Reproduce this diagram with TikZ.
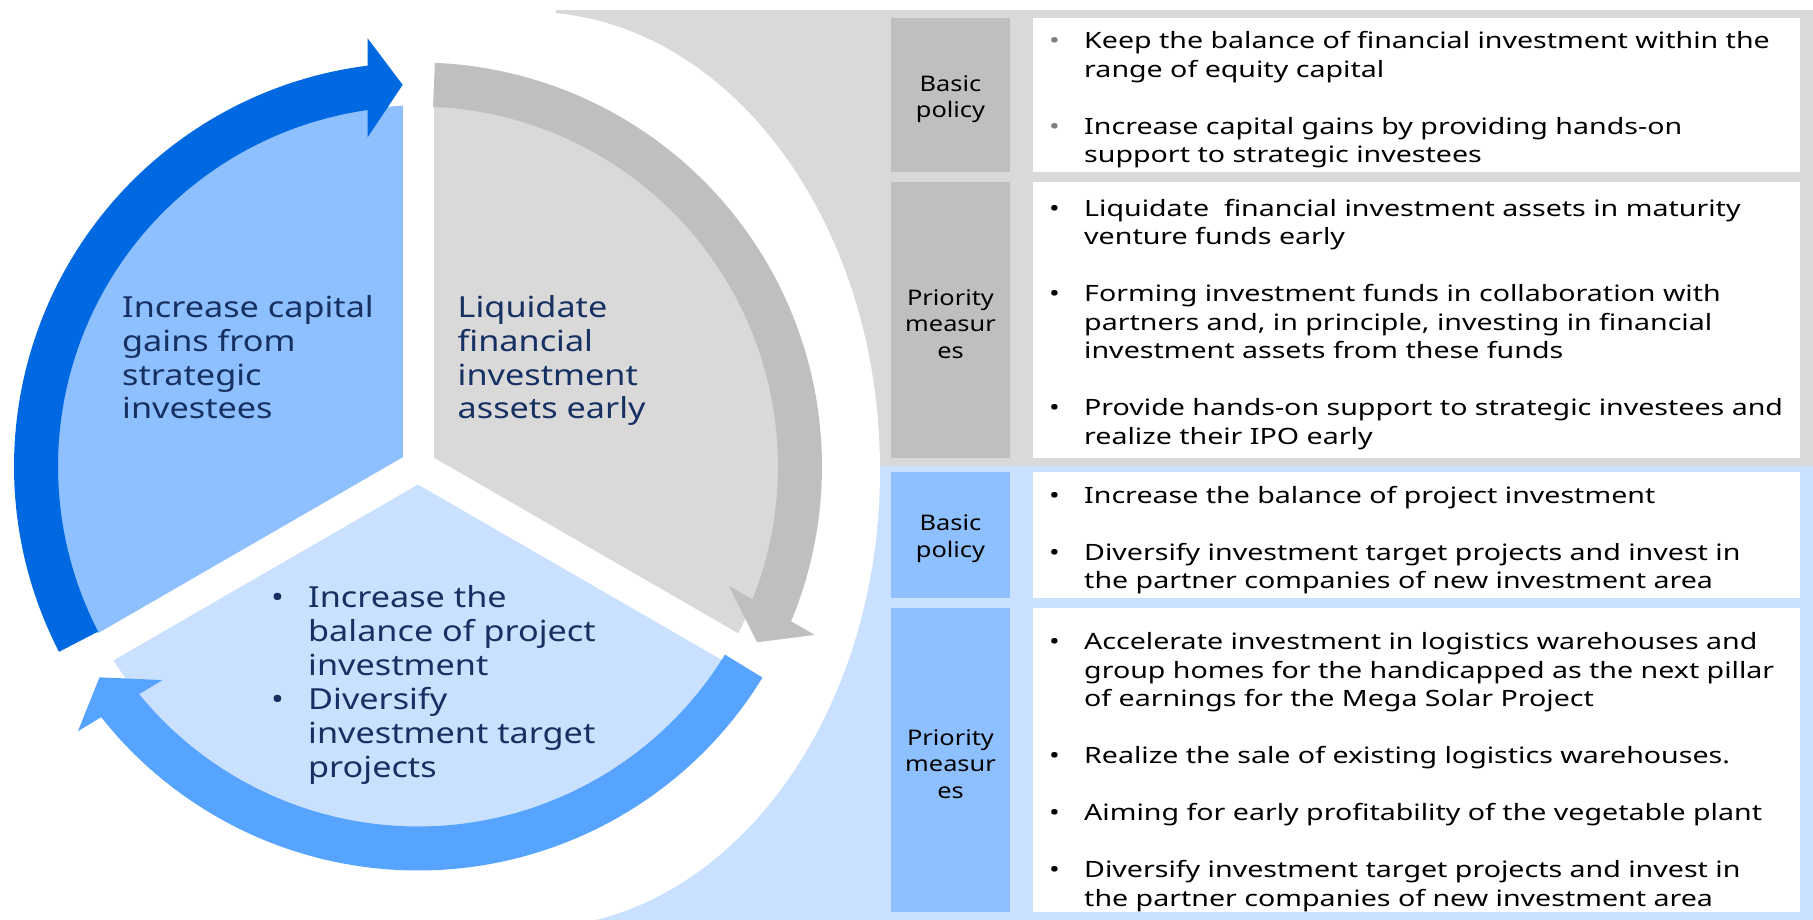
\documentclass[tikz,border=0pt]{standalone}
\usepackage{fontspec}
\setmainfont{Noto Sans}[FakeStretch=1.18]
\newfontfamily\panelfont{Noto Sans}[FakeStretch=1.27]
\usetikzlibrary{positioning}

\definecolor{cycBlue}{RGB}{0,104,224}
\definecolor{cycSky}{RGB}{86,164,255}
\definecolor{cycGray}{RGB}{191,191,191}
\definecolor{secBlue}{RGB}{142,192,255}
\definecolor{secPale}{RGB}{202,224,255}
\definecolor{secGray}{RGB}{217,217,217}
\definecolor{navy}{RGB}{22,48,98}
\newcommand{\lblstrut}{\rule{0pt}{23pt}}

\begin{document}
\begin{tikzpicture}[x=1pt,y=1pt,
  lbl/.style={minimum width=119pt, inner sep=0pt, align=center, font=\fontsize{21.5}{26.5}\selectfont},
  txtbox/.style={fill=white, minimum width=767pt, inner sep=0pt},
  items/.style={anchor=west, inner sep=0pt, font=\panelfont\fontsize{22.5}{28.5}\selectfont},
  cyc/.style={anchor=north west, inner sep=0pt, align=left, text=navy, font=\fontsize{29}{33.9}\selectfont}]
\useasboundingbox (0,0) rectangle (1813,920);
\fill[white] (0,0) rectangle (1813,920);

% panels behind the cycle
\fill[secGray] (556,454) rectangle (1813,910);
\fill[secPale] (556,0) rectangle (1813,454);
\fill[white] (530,450) ellipse [x radius=350, y radius=458];

% cycle
\coordinate (ctr) at (418,453.5);
\fill[secBlue] (ctr) -- ++(90:361) arc[start angle=90, end angle=210, radius=361] -- cycle;
\fill[secGray] (ctr) -- ++(-30:361) arc[start angle=-30, end angle=90, radius=361] -- cycle;
\fill[secPale] (ctr) -- ++(210:361) arc[start angle=210, end angle=330, radius=361] -- cycle;
\foreach \a in {90,210,330}
  \draw[white, line width=31pt] (ctr) -- ++(\a:362);
\begin{scope}[shift={(ctr)}]
\foreach \col/\ang in {cycBlue/207.3, cycGray/87.6, cycSky/-31.5}
  \fill[\col] (\ang:404) arc[start angle=\ang, end angle=\ang-110.15, radius=404]
    -- (\ang-110.6:431) -- (\ang-115:382) -- (\ang-108.6:333) -- (\ang-109.27:360)
    arc[start angle=\ang-109.27, end angle=\ang, radius=360] -- cycle;
\end{scope}

\node[cyc] (gains) at (122,625) {Increase capital\\gains from\\strategic\\investees};
\node[cyc] (liquid) at (457.5,625) {Liquidate\\financial\\investment\\assets early};
\node[cyc, anchor=west] (project) at (271,234.3) {\begin{tabular}{@{}p{37pt}@{}l@{}}
  \textbullet & Increase the\\
   & balance of project\\
   & investment\\
  \textbullet & Diversify\\
   & investment target\\
   & projects
  \end{tabular}};

% right side: financial investment
\node[lbl, fill=cycGray, minimum height=154pt] (fbasic) at (950.5,824.5) {\lblstrut Basic\\policy};
\node[txtbox, minimum height=154pt, right=23pt of fbasic] (fbasicbox) {};
\node[lbl, fill=cycGray, minimum height=276pt] (fprio) at (950.5,599.5) {\lblstrut Priority\\measur\\es};
\node[txtbox, minimum height=276pt, right=23pt of fprio] (fpriobox) {};
\node[items] (fbasictxt) at (1049,820) {\begin{tabular}{@{}p{35pt}@{}l@{}}
  \textcolor{gray}{\textbullet} & Keep the balance of financial investment within the\\
   & range of equity capital\\[28.5pt]
  \textcolor{gray}{\textbullet} & Increase capital gains by providing hands-on\\
   & support to strategic investees
  \end{tabular}};
\node[items] (fpriotxt) at (1049,595.3) {\begin{tabular}{@{}p{35pt}@{}l@{}}
  \textbullet & Liquidate\ \ financial investment assets in maturity\\
   & venture funds early\\[28.5pt]
  \textbullet & Forming investment funds in collaboration with\\
   & partners and, in principle, investing in financial\\
   & investment assets from these funds\\[28.5pt]
  \textbullet & Provide hands-on support to strategic investees and\\
   & realize their IPO early
  \end{tabular}};

% right side: project investment
\node[lbl, fill=secBlue, minimum height=126pt] (pbasic) at (950.5,384.7) {\lblstrut Basic\\policy};
\node[txtbox, minimum height=126pt, right=23pt of pbasic] (pbasicbox) {};
\node[lbl, fill=secBlue, minimum height=304pt] (pprio) at (950.5,159.5) {\lblstrut Priority\\measur\\es};
\node[txtbox, minimum height=304pt, right=23pt of pprio] (ppriobox) {};
\node[items] (pbasictxt) at (1049,379.6) {\begin{tabular}{@{}p{35pt}@{}l@{}}
  \textbullet & Increase the balance of project investment\\[28.5pt]
  \textbullet & Diversify investment target projects and invest in\\
   & the partner companies of new investment area
  \end{tabular}};
\node[items] (ppriotxt) at (1049,147.5) {\begin{tabular}{@{}p{35pt}@{}l@{}}
  \textbullet & Accelerate investment in logistics warehouses and\\
   & group homes for the handicapped as the next pillar\\
   & of earnings for the Mega Solar Project\\[28.5pt]
  \textbullet & Realize the sale of existing logistics warehouses.\\[28.5pt]
  \textbullet & Aiming for early profitability of the vegetable plant\\[28.5pt]
  \textbullet & Diversify investment target projects and invest in\\
   & the partner companies of new investment area
  \end{tabular}};
\end{tikzpicture}
\end{document}
